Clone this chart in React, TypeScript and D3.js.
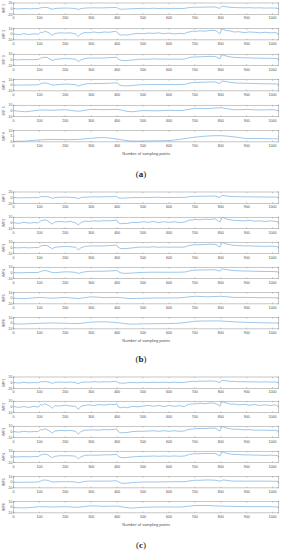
import React from 'react';
import * as d3 from 'd3';

const fineX = [0,20,40,60,80,96,104,112,120,130,140,150,160,180,200,220,240,250,260,275,290,310,330,350,370,390,398,404,412,425,440,460,480,500,520,540,560,580,600,620,640,660,670,680,690,700,720,740,760,780,790,797,803,810,820,835,850,870,890,910,930,950,970,990,1010,1020,1024];
const coarseX = [0,50,100,150,200,250,300,350,400,450,500,550,600,650,700,750,800,850,900,950,1000,1024];

const xTicks = [0,100,200,300,400,500,600,700,800,900,1000];
const yTicksWide = [-20,0,20];
const yTicksStd = [-10,0,10];
const yTicksTrend = [0,5,10];

// panel (a)
const aImf1 = [0,-1,0.5,-0.5,0, 0.5,3,3.5,4.5,4, 1,-2,0.5,1.5,2, 1.5,0.5,-3,0,2, 2.5,3,2.5,3,3.5, 4,4.5,0.5,-1.5,-2, -1,0,0.5,1,0.5, 1.5,0.5,1,0.5,1, 0.5,1,2.5,4,4.5, 5,5,5.5,6,5.5, 2.5,1,7.5,8.5,6.5, 5,4,3.5,3,3.5, 2.5,3,2,2.5,2, 1.5,-1];
const aImf2 = [0.5,-0.8,1,-0.5,0.8, 0,3.5,3,5,4, 1.5,-2,1.5,2.5,2, 2.5,0.5,-4,0.5,3, 2.5,4,2.5,4,3.5, 5,4.5,1,-1.5,-1, -1.5,0.5,1.5,1,2, 1.5,2.5,1,2,0.5, 1.5,1,3.5,4,5.5, 5,6,5.5,7,6.5, 3,1,8.5,9,6.5, 6,4,4.5,3,4, 3.5,2.5,3.5,2.5,3, 1.5,0];
const aImf3 = [0.5,0,0.5,0.3,0.5, 0.8,3,3.8,4.5,4.2, 1.5,-1,0.8,1.8,2.2, 2,1,-3,0,2.3, 3,3.3,3,3.4,3.8, 4.3,4.8,1.5,-0.5,-1.3, -1,-0.2,0.8,1.3,1, 1.8,1.2,1.4,1.1,1.4, 1.1,1.4,2.8,4.2,4.8, 5.2,5.3,5.8,6.2,5.8, 3.2,1.8,7.5,8.5,6.8, 5.3,4.4,4,3.6,3.5, 3.1,3,2.6,2.9,2.5, 2,0.5];
const aImf4 = [0.3,0.2,0.4,0.5,0.7, 1,2.5,3.5,4,3.5, 2,0.5,0.5,1.5,2, 1.8,1,-1.5,0.3,2, 2.8,3,3,3.2,3.6, 4,4.3,2.5,0,-1, -1,-0.3,0.5,1,1.2, 1.4,1.3,1.3,1.2,1.3, 1.3,1.6,2.6,3.8,4.5, 5,5.2,5.5,5.8,5.5, 4,3,6,7.5,6.5, 5.2,4.3,3.8,3.5,3.3, 3,2.8,2.6,2.6,2.4, 2,1];
const aImf5 = [0.5,-1.5,1.5,1,2,-0.5,2.5,2,2.5,-1.5,0.5,0,1,0.5,4.5,4,5.5,2,2.5,1.5,2,0.5];
const aImf6 = [0.5,0.8,1.8,2.2,2,2.2,3.2,3.8,2.5,0.8,0.8,1,1.2,2.5,4.2,5.2,5.5,4.5,3,3,2.8,2.8];

// panel (b)
const bImf1 = [0.5,-1,0,-0.5,0.5, 0,3.5,3,4,3.5, 1.5,-2.5,0,1.5,2, 1,0,-3.5,0.5,2, 2,3,2.5,3.5,3, 4,4.5,0,-2,-1.5, -1,0.5,0,1,0.5, 1,1.5,0.5,1,0.5, 1,0.5,2.5,3.5,4.5, 4.5,5,5,5.5,5.5, 2,1,7,8,6, 4.5,4,3.5,3,3, 2.5,2.5,2,2.5,2, 1.5,-1];
const bImf2 = [0.5,-1,1,-0.5,0.5, 0,3.5,4,5.5,4, 1,-2,1.5,2.5,1.5, 2.5,0,-4,0.5,3, 2.5,3.5,3,4,3.5, 4.5,5,0.5,-1.5,-1, -1,1,0.5,2,1, 2.5,0.5,2,1,2, 0.5,1.5,3,5,5, 6,5.5,6.5,6,7, 3,1.5,8,9.5,7, 5.5,4.5,4,3.5,4.5, 3,3.5,2.5,3.5,2.5, 2,0];
const bImf3 = [0.3,0,0.5,0,0.5, 0.5,3,4,4.5,4, 1,-1.5,1,2,2.5, 2,1,-3.5,0,2.5, 3,3.5,3,3.5,4, 4.5,5,1,-1,-1.5, -1,0,1,1.5,1, 2,1,1.5,1,1.5, 1,1.5,3,4.5,5, 5.5,5.5,6,6.5,6, 3,1.5,8,9,7, 5.5,4.5,4,3.5,3.5, 3,3,2.5,3,2.5, 2,0];
const bImf4 = [0.2,0.2,0.3,0.5,0.6, 0.8,2.5,3.5,4,3.5, 2,0.5,0.3,1.2,1.8, 1.6,0.8,-1,0.3,1.8, 2.5,2.8,2.8,3,3.3, 3.8,4,2.5,0.3,-0.8, -0.8,-0.3,0.4,0.8,1, 1.2,1.1,1.1,1,1.1, 1.1,1.4,2.4,3.5,4.2, 4.8,5,5.2,5.5,5.3, 4,3,5.5,7,6, 4.8,4,3.6,3.3,3.1, 2.8,2.6,2.4,2.4,2.2, 1.8,0.5];
const bImf5 = [0,-0.5,1.5,0,1.5,-0.5,2.5,1,1.5,-0.5,0,0.5,0.5,1,3.5,2.5,3.5,1.5,1.5,1,1,0.5];
const bImf6 = [-1.5,-1,0,0.5,0,-0.5,2,2.5,1,-1.5,-1,-0.8,-0.5,0.5,3.5,4,4,2.5,1.5,1,0.5,0.5];

// panel (c)
const cImf1 = [0.5,-1.5,1,-1,0.5, -0.5,3.5,2.5,4.5,3, 1.5,-2.5,1,2,1, 2,0,-3.5,1,2.5, 1.5,3.5,2,3.5,2.5, 4.5,4,0,-1.5,-2, -0.5,0.5,-0.5,1.5,0, 1.5,0.5,1.5,0,1.5, 0.5,1,3,3.5,5, 4,5.5,5,6,5, 2,0.5,7.5,8,6.5, 4.5,4.5,3,3.5,2.5, 3,2,3,2,2.5, 1,-1];
const cImf2 = [1,-1,0.5,-1,1, -0.5,4,3,5.5,3.5, 1.5,-2.5,2,1.5,3, 1.5,1,-4.5,1,2.5, 3.5,2.5,4,3,4.5, 4,5.5,0,-1.5,-0.5, -1.5,1,0,1.5,2.5, 1,2.5,0.5,2.5,1, 2,0.5,3.5,4.5,5.5, 5,6.5,5.5,7,6, 3.5,1,9,8.5,7, 5,5,3.5,4.5,3, 4,2.5,3.5,2.5,3.5, 1.5,0];
const cImf3 = [0.5,-0.5,1,0,0.5, 0.5,4,3.5,5.5,4, 1,-2,1.5,2.5,2, 2.5,1,-4,0.5,3, 3,3.5,3,4,3.5, 4.5,5,0.5,-1.5,-1.5, -1,0.5,1,1,1.5, 2,1,2,1,2, 1,1.5,3.5,4.5,5, 5.5,6,6,6.5,6.5, 3,1.5,8.5,9,7, 5.5,4.5,4.5,3.5,4, 3,3,3,2.5,3, 2,0];
const cImf4 = [0,0,0.5,0,0.5, 0.5,3,4,5,4, 1,-1.5,1,2,2, 2,1,-3.5,0,2.5, 3,3,3,3.5,3.5, 4,4.5,1,-1,-1.5, -1,0,0.5,1,1, 1.5,1,1.5,1,1.5, 1,1.5,3,4.5,5, 5.5,5.5,6,6,6, 3,1.5,7.5,8.5,6.5, 5,4.5,4,3.5,3.5, 3,3,2.5,3,2.5, 2,0];
const cImf5 = [0,0,0,0,0.2, 0.5,2,3.5,4,3.5, 2,0.5,0.5,1,1, 1,0.5,-1,0,1.5, 2,2,2,2,2, 2.5,2.5,1,-1,-2, -1.5,-0.5,0,0.5,0.5, 0.5,0.5,0.8,0.8,1, 1,1,1.5,2.5,3, 3.5,3.5,4,4,3.5, 2.5,2,3,4,3.5, 2.5,2,2,2,2, 2,2,2,1.8,1.8, 1.5,-1];
const cImf6 = [-0.5,-1,1,0.5,1,0,2.5,1.5,2,-1.5,0,0.5,0.5,0.5,3,3,2,1.5,1,1,1,0];

const labelsA = ['IMF 1','IMF 2','IMF 3','IMF 4','IMF 5','IMF 6'];
const labelsBC = ['IMF1','IMF2','IMF3','IMF4','IMF5','IMF6'];

type Sub = { label: string; top: number; ys: number[]; xs: number[]; ticks: number[]; smooth: boolean };

const H_BOX = 11.3;
const X0 = 13.5, X1 = 278.8;
const FONT = "'Liberation Sans', Arial, sans-serif";
const LINE = '#3d8fd2';
const AXIS = '#808080';
const TXT = '#505050';

function makePanel(labels: string[], tops: number[], series: number[][], xsList: number[][], tickList: number[][], smooth: boolean[]): Sub[] {
  return labels.map((l, i) => ({ label: l, top: tops[i], ys: series[i], xs: xsList[i], ticks: tickList[i], smooth: smooth[i] }));
}

const panelA = makePanel(labelsA, [3, 28.6, 54.2, 79.6, 105.2, 130.6],
  [aImf1, aImf2, aImf3, aImf4, aImf5, aImf6],
  [fineX, fineX, fineX, fineX, coarseX, coarseX],
  [yTicksWide, yTicksStd, yTicksStd, yTicksStd, yTicksStd, yTicksTrend],
  [false, false, false, false, true, true]);
const panelB = makePanel(labelsBC, [192, 217.2, 242.2, 267.2, 292.6, 317.6],
  [bImf1, bImf2, bImf3, bImf4, bImf5, bImf6],
  [fineX, fineX, fineX, fineX, coarseX, coarseX],
  [yTicksWide, yTicksStd, yTicksStd, yTicksStd, yTicksStd, yTicksStd],
  [false, false, false, false, true, true]);
const panelC = makePanel(labelsBC, [377, 401.2, 426.2, 451.2, 476.6, 501.6],
  [cImf1, cImf2, cImf3, cImf4, cImf5, cImf6],
  [fineX, fineX, fineX, fineX, fineX, coarseX],
  [yTicksWide, yTicksStd, yTicksStd, yTicksStd, yTicksStd, yTicksStd],
  [false, false, false, false, false, true]);

const x = d3.scaleLinear().domain([0, 1024]).range([X0, X1]);

function Subplot({ s, id }: { s: Sub; id: string }) {
  const dom = [s.ticks[0], s.ticks[s.ticks.length - 1]];
  const y = d3.scaleLinear().domain(dom).range([s.top + H_BOX, s.top]);
  const pts: [number, number][] = s.xs.map((xv, i) => [xv, s.ys[i]]);
  const line = d3.line<[number, number]>()
    .x(d => x(d[0])).y(d => y(d[1]))
    .curve(s.smooth ? d3.curveCatmullRom : d3.curveLinear);
  const bottom = s.top + H_BOX;
  return (
    <g>
      <clipPath id={id}><rect x={X0} y={s.top} width={X1 - X0} height={H_BOX} /></clipPath>
      <path d={line(pts) || ''} fill="none" stroke={LINE} strokeWidth={0.5} clipPath={`url(#${id})`} />
      <rect x={X0} y={s.top} width={X1 - X0} height={H_BOX} fill="none" stroke={AXIS} strokeWidth={0.45} />
      {xTicks.map(t => (
        <g key={'x' + t}>
          <line x1={x(t)} x2={x(t)} y1={bottom} y2={bottom - 1.3} stroke={AXIS} strokeWidth={0.4} />
          <line x1={x(t)} x2={x(t)} y1={s.top} y2={s.top + 1.3} stroke={AXIS} strokeWidth={0.4} />
          <text x={x(t)} y={bottom + 5} fontSize={3.6} textAnchor="middle" fill={TXT} fontFamily={FONT}>{t}</text>
        </g>
      ))}
      {s.ticks.map(t => (
        <g key={'y' + t}>
          <line x1={X0} x2={X0 + 1.3} y1={y(t)} y2={y(t)} stroke={AXIS} strokeWidth={0.4} />
          <line x1={X1} x2={X1 - 1.3} y1={y(t)} y2={y(t)} stroke={AXIS} strokeWidth={0.4} />
          <text x={X0 - 1.2} y={y(t) + 1.2} fontSize={3.4} textAnchor="end" fill={TXT} fontFamily={FONT}>{t}</text>
        </g>
      ))}
      <text transform={`translate(5.2,${s.top + H_BOX / 2}) rotate(-90)`} fontSize={3.6} textAnchor="middle" fill={TXT} fontFamily={FONT}>{s.label}</text>
    </g>
  );
}

function Panel({ subs, name, xlabelY, captionY, letter }: { subs: Sub[]; name: string; xlabelY: number; captionY: number; letter: string }) {
  return (
    <g>
      {subs.map((s, i) => <Subplot key={i} s={s} id={`${name}-clip-${i}`} />)}
      <text x={(X0 + X1) / 2} y={xlabelY} fontSize={4} textAnchor="middle" fill={TXT} fontFamily={FONT}>Number of sampling points</text>
      <text x={141} y={captionY} fontSize={9} textAnchor="middle" fill="#222" fontFamily="'Liberation Serif', 'Times New Roman', serif">
        (<tspan fontWeight="bold">{letter}</tspan>)
      </text>
    </g>
  );
}

export default function App() {
  return (
    <svg width={282} height={550} viewBox="0 0 282 550" style={{ position: 'absolute', left: 0, top: 0, background: '#fff' }}>
      <rect x={0} y={0} width={282} height={550} fill="#fff" />
      <Panel subs={panelA} name="a" xlabelY={154.8} captionY={176.5} letter="a" />
      <Panel subs={panelB} name="b" xlabelY={342} captionY={361.5} letter="b" />
      <Panel subs={panelC} name="c" xlabelY={525.8} captionY={548} letter="c" />
    </svg>
  );
}
